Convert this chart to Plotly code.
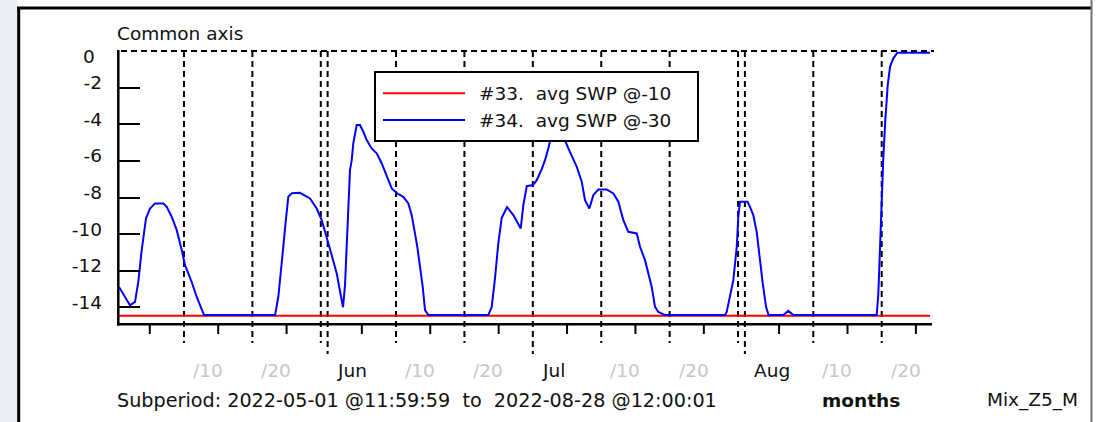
import pandas as pd
import plotly.graph_objects as go

# ---------------------------------------------------------------- data
period_start = pd.Timestamp("2022-05-01 11:59:59")
period_end = pd.Timestamp("2022-08-28 12:00:01")

# days elapsed since the start of the subperiod, and average SWP at -30
swp30_days = [
    0.00, 1.61, 2.34, 2.82, 3.32, 3.65, 3.95, 4.53, 5.26, 6.48, 6.97, 7.70,
    8.44, 9.17, 9.65, 10.63, 11.36, 12.43,
    22.81, 23.29, 23.79, 24.02, 24.27, 24.75, 25.29, 26.46, 27.92, 28.90,
    29.63, 30.37, 31.10, 31.83, 32.56, 32.75,
    33.04, 33.29, 33.52, 33.77, 34.02, 34.25, 34.75, 35.23, 35.72, 36.21,
    36.94, 37.68, 38.41, 39.14, 39.87, 40.69, 41.56, 42.30, 42.79, 43.27,
    43.61, 44.01, 44.40, 44.74, 45.22,
    53.99, 54.49, 54.97, 55.45, 55.95, 56.73, 57.65, 58.73, 59.11, 59.61,
    60.53, 61.07, 61.80, 62.28, 62.76, 63.30, 64.04, 64.77, 65.69, 66.92,
    67.65, 68.13, 68.76, 69.34, 70.07, 71.30, 72.27, 73.00, 73.73, 74.46,
    75.69, 76.17, 76.90, 77.38, 77.88, 78.36, 78.85, 79.82,
    88.60, 88.84, 89.33, 89.81, 90.31, 90.54, 90.79, 91.89, 92.25, 92.73,
    93.23, 93.64, 94.11, 94.59, 94.96,
    97.12, 97.85, 98.58, 110.77, 111.01, 111.26, 111.51, 111.74, 112.03,
    112.38, 112.72, 113.20, 113.79, 118.57,
]
swp30_values = [
    -12.88, -13.88, -13.70, -12.61, -10.87, -9.78, -9.13, -8.60, -8.32, -8.32, -8.51, -9.05,
    -9.78, -10.87, -11.69, -12.61, -13.43, -14.42,
    -14.42, -13.43, -11.79, -10.69, -9.69, -7.96, -7.76, -7.74, -8.05, -8.60,
    -9.23, -10.15, -11.15, -12.15, -13.61, -13.99,
    -12.79, -10.51, -8.14, -6.50, -5.96, -5.04, -4.04, -4.04, -4.41, -4.86,
    -5.32, -5.59, -6.14, -6.87, -7.50, -7.78, -7.96, -8.32, -8.96, -9.96,
    -10.69, -11.79, -12.88, -14.15, -14.42,
    -14.42, -13.97, -12.40, -10.50, -9.10, -8.52, -8.96, -9.69, -8.42, -7.38,
    -7.32, -7.05, -6.45, -5.96, -5.32, -4.48, -4.20, -4.48, -5.32, -6.32,
    -7.14, -8.14, -8.60, -7.87, -7.56, -7.56, -7.78, -8.23, -9.23, -9.87,
    -9.96, -10.69, -11.42, -12.15, -12.88, -13.97, -14.25, -14.42,
    -14.42, -14.25, -13.43, -12.51, -10.69, -9.05, -8.23, -8.23, -8.51, -8.96,
    -9.89, -11.24, -12.69, -13.97, -14.42,
    -14.42, -14.19, -14.42, -14.42, -13.24, -10.60, -7.96, -5.78, -3.77,
    -1.86, -0.86, -0.40, -0.09, -0.09,
]

# average SWP at -10 stays flat over the whole subperiod
swp10_days = [0.00, 118.57]
swp10_values = [-14.46, -14.46]

series_names = ["#33.\u00a0 avg SWP @-10", "#34.\u00a0 avg SWP @-30"]
series_colors = ["#ff0000", "#0000ff"]

y_ticks = [-2, -4, -6, -8, -10, -12, -14]

dekad_marks = ["2022-05-11", "2022-05-21", "2022-06-01", "2022-06-11", "2022-06-21",
               "2022-07-01", "2022-07-11", "2022-07-21", "2022-08-01", "2022-08-11",
               "2022-08-21"]
dekad_labels = ["/10", "/20", "Jun", "/10", "/20", "Jul", "/10", "/20", "Aug", "/10", "/20"]
day31_marks = ["2022-05-31", "2022-07-31"]
five_day_ticks = ["2022-05-06", "2022-05-16", "2022-05-26", "2022-06-06", "2022-06-16",
                  "2022-06-26", "2022-07-06", "2022-07-16", "2022-07-26", "2022-08-06",
                  "2022-08-16", "2022-08-26"]

# ---------------------------------------------------------------- layout helpers
W, H = 1112, 422
ML, MR, MT, MB = 119, 179, 51, 99
PW, PH = W - ML - MR, H - MT - MB
FONT = "DejaVu Sans"
FS = 18.5
INK = "#111111"
AXIS_W = 2.5
AXIS_C = "#000000"


def px(x):
    """page pixel column -> paper x"""
    return (x - ML) / PW


def py(y):
    """page pixel row -> paper y"""
    return (H - MB - y) / PH


def to_time(days):
    return period_start + pd.to_timedelta(days, unit="D")


fig = go.Figure()
fig.add_trace(go.Scatter(x=to_time(swp10_days), y=swp10_values, mode="lines",
                         name=series_names[0], showlegend=False,
                         line=dict(color=series_colors[0], width=2)))
fig.add_trace(go.Scatter(x=to_time(swp30_days), y=swp30_values, mode="lines",
                         name=series_names[1], showlegend=False,
                         line=dict(color=series_colors[1], width=2)))

shapes = []
grid_dash = "6px,4px"
# dotted period separators (dekads, day 31, month starts)
for d in dekad_marks + day31_marks:
    is_month = d.endswith("-01")
    shapes.append(dict(type="line", xref="x", yref="paper", x0=d, x1=d,
                       y0=1, y1=py(354 if is_month else 343), layer="below",
                       line=dict(color="black", width=2, dash=grid_dash)))
# five-day ticks under the time axis
for d in five_day_ticks:
    shapes.append(dict(type="line", xref="x", yref="paper", x0=d, x1=d,
                       y0=py(324), y1=py(334), layer="above",
                       line=dict(color=AXIS_C, width=2)))
# dashed top edge
shapes.append(dict(type="line", xref="paper", yref="paper", x0=px(121), x1=px(934),
                   y0=1, y1=1, layer="below",
                   line=dict(color="black", width=2, dash=grid_dash)))
# solid axis lines (left and bottom)
shapes.append(dict(type="line", xref="paper", yref="paper", x0=px(118.3), x1=px(118.3),
                   y0=py(50), y1=py(325.5), layer="above",
                   line=dict(color=AXIS_C, width=AXIS_W)))
shapes.append(dict(type="line", xref="paper", yref="paper", x0=px(117), x1=px(932),
                   y0=py(324.3), y1=py(324.3), layer="above",
                   line=dict(color=AXIS_C, width=AXIS_W)))

# key box
shapes.append(dict(type="rect", xref="paper", yref="paper", x0=px(375), x1=px(698),
                   y0=py(141), y1=py(72), fillcolor="white", layer="above",
                   line=dict(color="black", width=2)))
for i, yy in enumerate([93.3, 120]):
    shapes.append(dict(type="line", xref="paper", yref="paper", x0=px(383), x1=px(465),
                       y0=py(yy), y1=py(yy), layer="above",
                       line=dict(color=series_colors[i], width=2)))

# window frame
shapes += [
    dict(type="rect", xref="paper", yref="paper", x0=px(0), x1=px(17.5), y0=py(H), y1=py(0),
         fillcolor="#e9edf6", line=dict(width=0), layer="below"),
    dict(type="line", xref="paper", yref="paper", x0=px(18.7), x1=px(18.7), y0=py(H), y1=py(7),
         line=dict(color="black", width=3)),
    dict(type="line", xref="paper", yref="paper", x0=px(17), x1=px(1092), y0=py(8), y1=py(8),
         line=dict(color="black", width=3)),
    dict(type="line", xref="paper", yref="paper", x0=px(1091.5), x1=px(1091.5), y0=py(H), y1=py(0),
         line=dict(color="#707070", width=2)),
]

annotations = []


def note(text, x, y, xanchor="left", color=INK, size=FS, **kw):
    annotations.append(dict(text=text, x=x, y=y, xref=kw.pop("xref", "paper"),
                            yref=kw.pop("yref", "paper"), xanchor=xanchor,
                            yanchor="middle", showarrow=False,
                            font=dict(family=FONT, size=size, color=color), **kw))


note("Common axis", px(115), py(33))
note("0", px(97), 0, xanchor="right", yref="y", yshift=-5)
for i, yy in enumerate([93.3, 120]):
    note(series_names[i], px(477), py(yy))
for d, lab in zip(dekad_marks, dekad_labels):
    note(lab, d, py(370), xref="x", xshift=7,
         color=INK if not lab.startswith("/") else "#c6c6c6")
note("Subperiod: 2022-05-01 @11:59:59\u00a0 to\u00a0 2022-08-28 @12:00:01", px(115), py(400),
     size=19.2)
note("<b>months</b>", px(861), py(400), xanchor="center")
note("Mix_Z5_M", px(985), py(400))

fig.update_layout(
    width=W, height=H, autosize=False,
    margin=dict(l=ML, r=MR, t=MT, b=MB, pad=0),
    paper_bgcolor="white", plot_bgcolor="white",
    font=dict(family=FONT, size=FS, color=INK),
    showlegend=False,
    shapes=shapes, annotations=annotations,
    xaxis=dict(type="date", range=[period_start, period_end],
               showline=False, showgrid=False, zeroline=False,
               ticks="", showticklabels=False),
    yaxis=dict(range=[-14.85, 0], showline=False, showgrid=False, zeroline=False,
               tickmode="array", tickvals=y_ticks, ticktext=[str(v) for v in y_ticks],
               ticks="inside", ticklen=21, tickwidth=2, tickcolor="#000000",
               ticklabelstandoff=16, ticklabelshift=-5,
               tickfont=dict(family=FONT, size=FS, color=INK)),
)

fig.write_html("out.html")
